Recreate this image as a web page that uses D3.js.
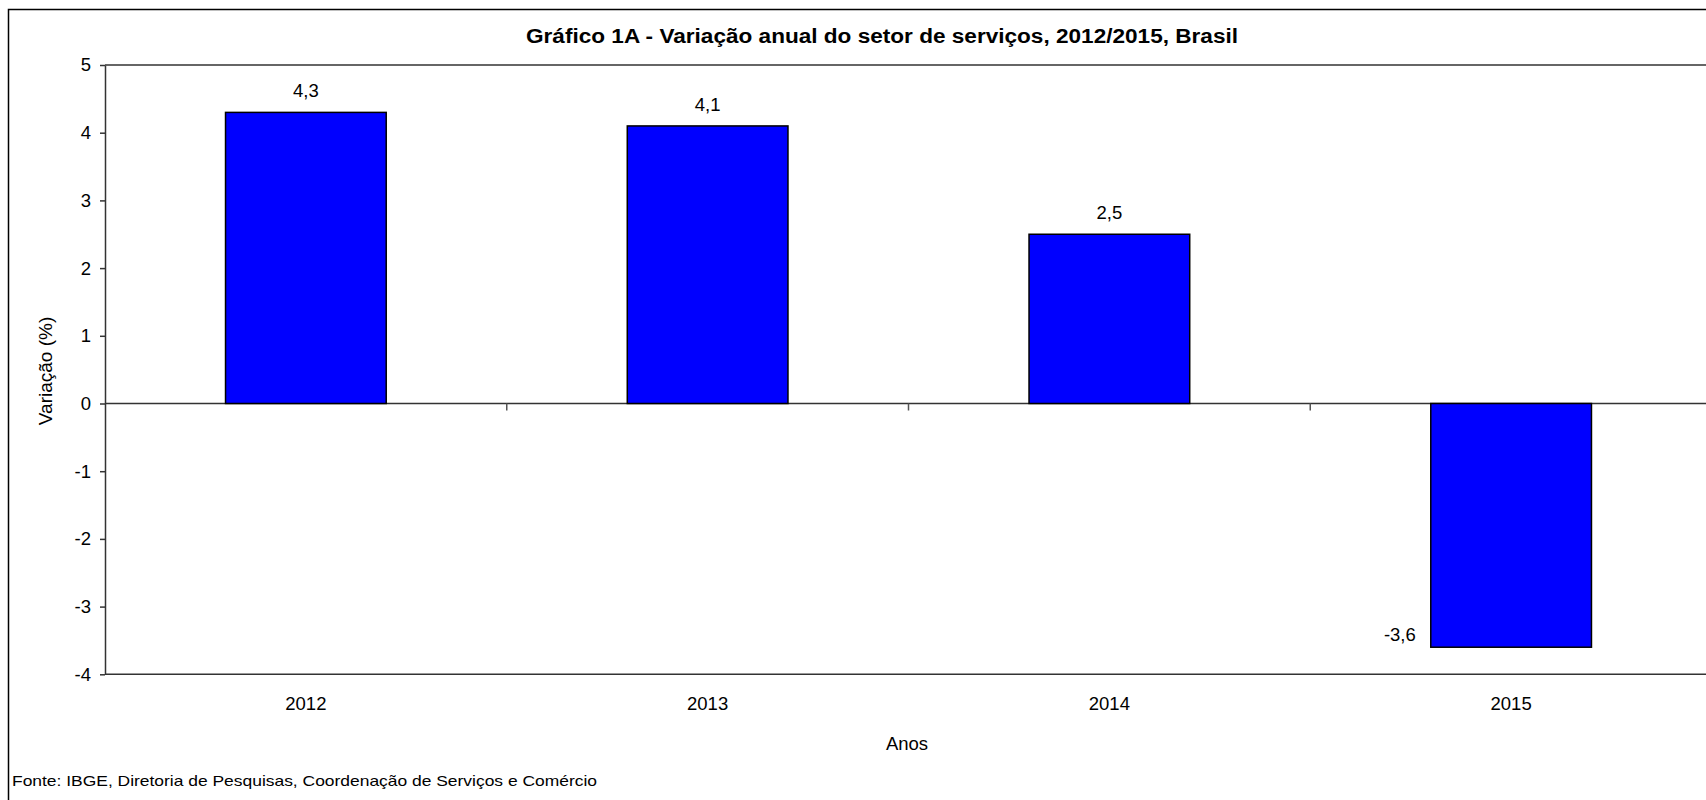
<!DOCTYPE html>
<html>
<head>
  <meta charset="utf-8">
  <title>Gráfico 1A</title>
  <style>
    body { margin: 0; background: #fff; }
    svg text { font-family: "Liberation Sans", Arial, sans-serif; fill: #000; }
    .axis-y text, .axis-x text { font-size: 18.5px; }
    .axis-y .domain, .axis-y line { stroke: #333; stroke-width: 1.5; }
    .bar { fill: #0000ff; stroke: #000; stroke-width: 1.5; }
  </style>
</head>
<body>
  <svg id="chart" width="1706" height="800"></svg>

  <script src="https://d3js.org/d3.v7.min.js"></script>
  <script>
    // data
    const anos = ["2012", "2013", "2014", "2015"];
    const variacao = [4.3, 4.1, 2.5, -3.6];
    const yTicks = [-4, -3, -2, -1, 0, 1, 2, 3, 4, 5];

    const title = "Gráfico 1A - Variação anual do setor de serviços, 2012/2015, Brasil";
    const fonte = "Fonte: IBGE, Diretoria de Pesquisas, Coordenação de Serviços e Comércio";

    const fmt = v => String(v).replace(".", ",");

    // layout
    const plot = { left: 105, top: 65, right: 1712, bottom: 674.3 };

    const svg = d3.select("#chart");

    // outer frame (runs off the right and bottom edges)
    svg.append("rect")
       .attr("x", 8.5).attr("y", 9.5)
       .attr("width", 1720).attr("height", 820)
       .attr("fill", "none")
       .attr("stroke", "#000")
       .attr("stroke-width", 1.5);

    // scales
    const x = d3.scaleBand()
                .domain(anos)
                .range([plot.left, plot.right])
                .paddingInner(0.6)
                .paddingOuter(0.3);

    const y = d3.scaleLinear()
                .domain([-4, 5])
                .range([plot.bottom, plot.top]);

    // plot area top / bottom border
    svg.append("line")
       .attr("x1", plot.left).attr("x2", plot.right)
       .attr("y1", y(5)).attr("y2", y(5))
       .attr("stroke", "#333").attr("stroke-width", 1.5);

    svg.append("line")
       .attr("x1", plot.left).attr("x2", plot.right)
       .attr("y1", y(-4)).attr("y2", y(-4))
       .attr("stroke", "#333").attr("stroke-width", 1.5);

    // y axis
    svg.append("g")
       .attr("class", "axis-y")
       .attr("transform", `translate(${plot.left},0)`)
       .call(d3.axisLeft(y).tickValues(yTicks).tickSize(5).tickSizeOuter(0).tickPadding(9).tickFormat(fmt));

    // category labels under the plot
    const xAxis = svg.append("g")
       .attr("class", "axis-x")
       .attr("transform", `translate(0,${plot.bottom})`)
       .call(d3.axisBottom(x).tickSize(0).tickPadding(23));
    xAxis.select(".domain").remove();

    // zero line with ticks between categories
    svg.append("line")
       .attr("x1", plot.left).attr("x2", plot.right)
       .attr("y1", y(0)).attr("y2", y(0))
       .attr("stroke", "#333").attr("stroke-width", 1.5);

    const gap = x.step() * x.paddingInner() / 2;
    svg.selectAll(".zero-tick")
       .data(anos.slice(1))
       .enter().append("line")
       .attr("class", "zero-tick")
       .attr("x1", d => x(d) - gap).attr("x2", d => x(d) - gap)
       .attr("y1", y(0)).attr("y2", y(0) + 7)
       .attr("stroke", "#555").attr("stroke-width", 1.5);

    // bars
    const rows = anos.map((a, i) => ({ ano: a, v: variacao[i] }));

    svg.selectAll(".bar")
       .data(rows)
       .enter().append("rect")
       .attr("class", "bar")
       .attr("x", d => x(d.ano))
       .attr("y", d => y(Math.max(0, d.v)))
       .attr("width", x.bandwidth())
       .attr("height", d => Math.abs(y(d.v) - y(0)));

    // value labels
    svg.selectAll(".val")
       .data(rows)
       .enter().append("text")
       .attr("class", "val")
       .attr("font-size", 18.5)
       .attr("text-anchor", d => d.v >= 0 ? "middle" : "end")
       .attr("x", d => d.v >= 0 ? x(d.ano) + x.bandwidth() / 2 : x(d.ano) - 15)
       .attr("y", d => d.v >= 0 ? y(d.v) - 15 : y(d.v) - 6)
       .text(d => fmt(d.v));

    // title
    svg.append("text")
       .attr("x", 882).attr("y", 43)
       .attr("text-anchor", "middle")
       .attr("font-size", 20)
       .attr("font-weight", "bold")
       .attr("textLength", 712)
       .attr("lengthAdjust", "spacingAndGlyphs")
       .text(title);

    // axis titles
    svg.append("text")
       .attr("transform", "translate(52,371) rotate(-90)")
       .attr("text-anchor", "middle")
       .attr("font-size", 19)
       .text("Variação (%)");

    svg.append("text")
       .attr("x", 907).attr("y", 750)
       .attr("text-anchor", "middle")
       .attr("font-size", 18.5)
       .text("Anos");

    // source note
    svg.append("text")
       .attr("x", 12).attr("y", 786)
       .attr("font-size", 14.5)
       .attr("textLength", 585)
       .attr("lengthAdjust", "spacingAndGlyphs")
       .text(fonte);
  </script>
</body>
</html>
